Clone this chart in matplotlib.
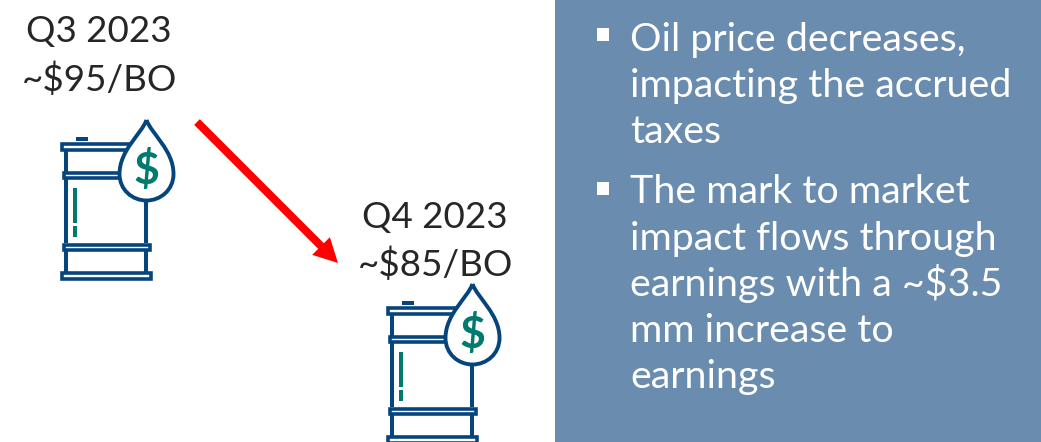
import matplotlib
matplotlib.use("Agg")
import matplotlib.pyplot as plt
from matplotlib.patches import Rectangle, PathPatch
from matplotlib.path import Path

plt.rcParams['font.family'] = ['Lato', 'DejaVu Sans']

NAVY = "#06457c"
TEAL = "#00796f"
PANEL = "#6a8caf"
TXT = "#262626"

left_label = ["Q3 2023", "~$95/BO"]
right_label = ["Q4 2023", "~$85/BO"]
bullets = [
    ["Oil price decreases,", "impacting the accrued", "taxes"],
    ["The mark to market", "impact flows through", "earnings with a ~$3.5", "mm increase to", "earnings"],
]

fig = plt.figure(figsize=(10.41, 4.42), dpi=100)
ax = fig.add_axes([0, 0, 1, 1])
ax.set_xlim(0, 1041)
ax.set_ylim(442, 0)
ax.axis("off")


def barrel(dx, dy):
    # walls first so the hoops sit on top
    for x, y0, y1 in [(66, 150, 172), (66, 179, 243), (66, 251, 272), (146, 200, 243), (146, 251, 272)]:
        ax.plot([x + dx, x + dx], [y0 + dy, y1 + dy], color=NAVY, lw=2.9, solid_capstyle="butt", zorder=2)
    # cap
    ax.add_patch(Rectangle((76 + dx, 137 + dy), 12, 3.5, fc=NAVY, ec="none", zorder=2))
    # hoops
    for x, y, w, h in [(62, 143.5, 75, 6.5), (64, 172.5, 60, 5), (64, 244.5, 86, 5), (62, 272.5, 89, 6.5)]:
        ax.add_patch(Rectangle((x + dx, y + dy), w, h, fc="white", ec=NAVY, lw=2.6, zorder=3))
    # teal mark
    ax.add_patch(Rectangle((73 + dx, 188 + dy), 4, 35, fc=TEAL, ec="none", zorder=3))
    ax.add_patch(Rectangle((73 + dx, 226 + dy), 4, 11, fc=TEAL, ec="none", zorder=3))
    # drop
    cx = 146.5 + dx
    verts = [(cx, 120 + dy),
             (cx + 5, 134 + dy), (cx + 27, 150 + dy), (cx + 27, 174 + dy),
             (cx + 27, 190 + dy), (cx + 14, 200.5 + dy), (cx, 200.5 + dy),
             (cx - 14, 200.5 + dy), (cx - 27, 190 + dy), (cx - 27, 174 + dy),
             (cx - 27, 150 + dy), (cx - 5, 134 + dy), (cx, 120 + dy)]
    codes = [Path.MOVETO] + [Path.CURVE4] * 12
    ax.add_patch(PathPatch(Path(verts, codes), fc="white", ec=NAVY, lw=2.8, zorder=4, joinstyle="miter"))
    ax.text(cx, 170 + dy, "$", color=TEAL, fontsize=32, fontweight="bold", ha="center", va="center", zorder=5)


barrel(0, 0)
barrel(326, 164)

ax.arrow(197, 122, 141, 141, width=8, head_width=25, head_length=24,
         length_includes_head=True, fc="#ff0000", ec="none", zorder=6)

for txt, y in zip(left_label, [42, 91]):
    ax.text(99, y, txt, color=TXT, fontsize=26.5, ha="center", va="baseline")
for txt, y in zip(right_label, [228, 276]):
    ax.text(435, y, txt, color=TXT, fontsize=26.5, ha="center", va="baseline")

ax.add_patch(Rectangle((555, 0), 486, 442, fc=PANEL, ec="none"))

ys = [[51, 97, 143], [203, 250, 296, 342, 388]]
for lines, line_ys, top in zip(bullets, ys, [28, 182]):
    ax.add_patch(Rectangle((597, top), 12, 12.5, fc="white", ec="none"))
    for txt, y in zip(lines, line_ys):
        ax.text(630, y, txt, color="white", fontsize=28.4, ha="left", va="baseline")

fig.savefig("out.png", dpi=100)
